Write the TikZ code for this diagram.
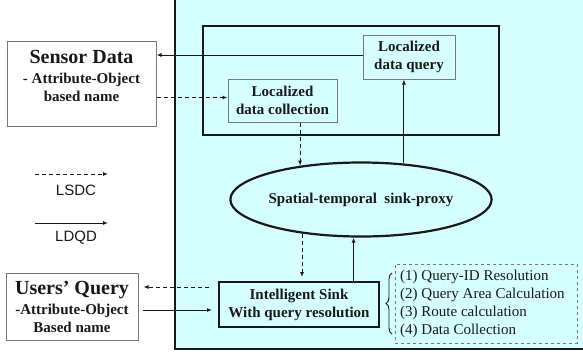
\documentclass[tikz,border=0pt]{standalone}
\usepackage{fontspec}
\setmainfont{Liberation Serif}
\setsansfont{Liberation Sans}
\usetikzlibrary{arrows.meta,shapes.geometric,decorations.pathreplacing}
\definecolor{panelcyan}{RGB}{213,255,255}
\definecolor{boxgray}{RGB}{120,120,120}
\definecolor{ink}{RGB}{25,25,25}
\tikzset{
  arr/.style={draw=ink,line width=1pt,-{Latex[length=5pt,width=4pt]}},
  darr/.style={arr,dash pattern=on 4pt off 3pt},
  thinbox/.style={draw=boxgray,line width=1pt,inner sep=0pt},
  thickbox/.style={draw=ink,line width=2pt,inner sep=0pt},
  bodytxt/.style={font=\fontsize{15}{18}\selectfont\bfseries,text=ink,align=center,inner sep=0pt},
  titletxt/.style={font=\fontsize{20}{22}\selectfont\bfseries,text=ink,inner sep=0pt},
  legtxt/.style={font=\sffamily\fontsize{15}{18}\selectfont,text=ink,inner sep=0pt},
  listtxt/.style={font=\fontsize{15}{18}\selectfont,text=ink,align=left,inner sep=0pt}
}
\begin{document}
\begin{tikzpicture}[x=1pt,y=-1pt]
\useasboundingbox (0,0) rectangle (583,354);
% panel
\fill[panelcyan] (175,-2) rectangle (585,349);
\draw[ink,line width=1.3pt] (175,-2) -- (175,349) -- (585,349);
% big rectangle
\node[thickbox,minimum width=296pt,minimum height=109pt] (big) at (351,80.5) {};
% localized boxes
\node[thinbox,minimum width=92pt,minimum height=44pt,bodytxt] (query) at (409,57) {Localized\\data query};
\node[thinbox,minimum width=109pt,minimum height=43pt,bodytxt] (collect) at (282.5,100.5) {Localized\\data collection};
% sensor data
\node[thinbox,fill=white,minimum width=149pt,minimum height=85pt] (sensor) at (81.5,83.5) {};
\node[titletxt] (sensortitle) at (81.5,57) {Sensor Data};
\node[bodytxt] (sensortxt) at (81.5,87.5) {- Attribute-Object\\based name};
% ellipse
\node[ellipse,draw=ink,line width=2.2pt,minimum width=238pt,minimum height=74pt,inner sep=0pt,bodytxt] (ell) at (361,199.5) {Spatial-temporal\ \ sink-proxy};
% sink
\node[thickbox,minimum width=160pt,minimum height=45pt,bodytxt] (sink) at (299,304.5) {Intelligent Sink\\With query resolution};
% users query
\node[thinbox,fill=white,minimum width=132pt,minimum height=67pt] (users) at (72,306.5) {};
\node[titletxt] (userstitle) at (72,290) {Users’ Query};
\node[bodytxt] (userstxt) at (72,318.5) {-Attribute-Object\\Based name};
% list
\node[draw=boxgray,dashed,line width=0.8pt,minimum width=182pt,minimum height=79pt,inner sep=0pt] (listbox) at (486,303.5) {};
\node[listtxt,anchor=west] (list) at (400,304) {(1) Query-ID Resolution\\(2) Query Area Calculation\\(3) Route calculation\\(4) Data Collection};
\draw[ink,line width=0.9pt,decorate,decoration={brace,amplitude=6pt}] (392,334) -- (392,273);
% connectors
\draw[arr] ([yshift=2pt]query.west) -- ([yshift=2pt]query.west -| sensor.east);
\draw[darr] ([yshift=3pt]collect.west -| sensor.east) -- ([yshift=3pt]collect.west);
\draw[darr] (ell.151.9 |- collect.south) -- (ell.151.9);
\draw[arr] (ell.40.2) -- (ell.40.2 |- query.south);
\draw[darr,shorten >=4pt] (ell.210.2) -- (ell.210.2 |- sink.north);
\draw[arr] (ell.259.3 |- sink.north) -- (ell.259.3);
\draw[darr,shorten <=9pt,shorten >=5pt] ([yshift=17.5pt]sink.west) -- ([yshift=17.5pt]sink.west -| users.east);
\draw[arr,shorten <=4pt,shorten >=6pt] ([yshift=-5.5pt]sink.west -| users.east) -- ([yshift=-5.5pt]sink.west);
% legend
\coordinate (l1a) at (35,174);
\coordinate (l1b) at (108,174);
\coordinate (l2a) at (35,223);
\coordinate (l2b) at (108,223);
\draw[darr] (l1a) -- (l1b);
\draw[arr] (l2a) -- (l2b);
\node[legtxt] (lsdc) at (76,190) {LSDC};
\node[legtxt] (ldqd) at (76,238) {LDQD};
\end{tikzpicture}
\end{document}
